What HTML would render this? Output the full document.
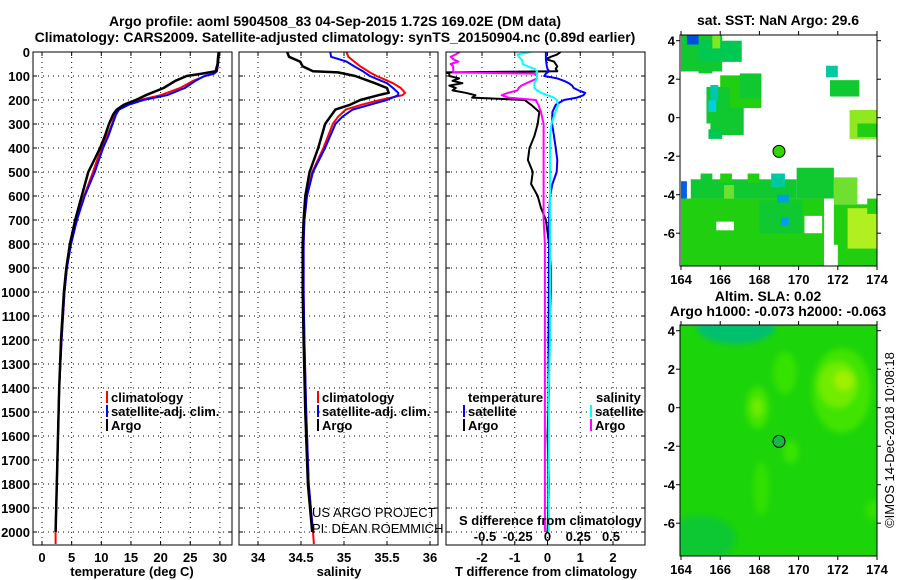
<!DOCTYPE html>
<html><head><meta charset="utf-8">
<style>
html,body{margin:0;padding:0;background:#fff;}
svg{display:block;font-family:"Liberation Sans",Arial,sans-serif;}
.b{font-weight:bold;font-size:13px;}
.t{font-weight:bold;font-size:14px;}
</style></head>
<body>
<svg id="fig" width="900" height="580" viewBox="0 0 900 580" xmlns="http://www.w3.org/2000/svg">
<rect width="900" height="580" fill="#fff"/>
<text class="t" x="335" y="26" text-anchor="middle">Argo profile: aoml 5904508_83 04-Sep-2015 1.72S 169.02E (DM data)</text>
<text class="t" x="335" y="42" text-anchor="middle">Climatology: CARS2009. Satellite-adjusted climatology: synTS_20150904.nc (0.89d earlier)</text>
<text class="t" x="778" y="25" text-anchor="middle">sat. SST: NaN Argo: 29.6</text>
<text class="t" x="768" y="301" text-anchor="middle">Altim. SLA: 0.02</text>
<text class="t" x="778" y="316" text-anchor="middle">Argo h1000: -0.073 h2000: -0.063</text>
<text x="894" y="440" font-size="13" text-anchor="middle" transform="rotate(-90 894 440)">©IMOS 14-Dec-2018 10:08:18</text>
<g id="g"></g>
</svg>
<script>
// ---------- data ----------
const tempDepth = [0,20,50,80,90,100,120,150,180,200,220,240,260,300,350,400,450,500,600,700,800,900,1000,1200,1400,1600,1800,2000,2050];
const argoT = [29.8,29.7,29.6,29.3,27.0,24.4,22.5,20.5,17.5,15.8,13.8,12.6,12.0,11.3,10.6,9.8,8.8,7.8,6.7,5.6,4.7,4.1,3.7,3.2,2.9,2.7,2.5,2.3,null];
const climT = [29.8,29.8,29.7,29.5,29.0,27.5,25.5,23.3,20.0,16.5,14.3,12.8,12.3,11.8,11.0,10.1,9.3,8.6,7.1,5.8,4.8,4.2,3.8,3.3,2.9,2.7,2.5,2.3,2.3];
const satT = [29.8,29.8,29.7,29.5,29.0,27.4,25.9,24.1,21.1,17.1,14.6,13.0,12.5,11.9,11.2,10.3,9.6,8.9,7.2,5.9,4.9,4.2,3.8,3.3,2.9,2.7,2.5,2.3,null];
const salDepth = [0,20,40,60,80,85,100,130,150,170,180,200,220,240,270,300,400,500,600,700,800,1000,1200,1500,1800,2000,2050];
const argoS = [34.34,34.36,34.49,34.52,34.64,34.93,35.13,35.36,35.50,35.52,35.40,35.19,35.07,34.90,34.84,34.78,34.70,34.60,34.55,34.53,34.52,34.52,34.53,34.55,34.58,34.63,null];
const climS = [35.03,35.05,35.12,35.19,35.28,35.30,35.38,35.57,35.66,35.71,35.68,35.42,35.20,35.02,34.93,34.87,34.76,34.63,34.57,34.54,34.53,34.53,34.54,34.56,34.59,34.64,34.65];
const satS = [34.84,34.85,35.03,35.12,35.22,35.24,35.30,35.50,35.57,35.63,35.63,35.50,35.30,35.10,34.98,34.90,34.78,34.64,34.57,34.54,34.53,34.53,34.54,34.56,34.59,34.64,null];
const diffDepth = [0,10,20,30,40,50,60,70,80,85,90,100,110,120,130,140,150,160,170,180,190,200,220,250,300,350,400,450,500,550,600,650,700,800,900,1000,1200,1400,1600,1800,2000];
const argoTdiff = [0.4,0.3,0.1,-0.05,0.2,0.25,0.3,0.25,0.3,-3.1,-3.0,-3.0,-2.7,-2.9,-2.6,-3.0,-2.8,-2.9,-2.5,-2.2,-2.3,-0.7,-0.5,-0.25,-0.3,-0.4,-0.55,-0.6,-0.45,-0.5,-0.3,-0.2,-0.05,0.05,0.1,0.1,0.05,0.05,0.0,0.05,0.0];
const satTdiff = [-0.05,-0.05,-0.05,-0.05,-0.04,-0.03,-0.02,0.0,0.05,0.0,-0.05,-0.1,0.3,0.5,0.65,0.75,0.8,0.95,1.15,1.1,0.9,0.5,0.25,0.15,0.14,0.2,0.25,0.3,0.28,0.15,0.08,0.06,0.05,0.05,0.04,0.04,0.03,0.03,0.02,0.02,0.02];
const satSdiff = [-0.13,-0.23,-0.22,-0.2,-0.19,-0.19,-0.15,-0.1,-0.08,-0.08,-0.08,-0.08,-0.08,-0.09,-0.1,-0.1,-0.1,-0.08,-0.05,0.0,0.05,0.07,0.08,0.06,0.03,0.02,0.02,0.02,0.02,0.02,0.02,0.02,0.02,0.02,0.02,0.02,0.02,0.01,0.01,0.01,0.01];
const argoSdiff = [-0.67,-0.7,-0.74,-0.72,-0.68,-0.74,-0.72,-0.72,-0.72,-0.72,-0.1,-0.08,-0.08,-0.12,-0.16,-0.2,-0.22,-0.23,-0.3,-0.35,-0.3,-0.09,-0.07,-0.05,-0.03,-0.03,-0.03,-0.03,-0.03,-0.03,-0.03,-0.03,-0.03,-0.02,-0.02,-0.02,-0.02,-0.02,-0.02,-0.02,-0.02];
const depthTicks = [0,100,200,300,400,500,600,700,800,900,1000,1100,1200,1300,1400,1500,1600,1700,1800,1900,2000];
const tempTicks = [0,5,10,15,20,25,30];
const salTicks = [34,34.5,35,35.5,36];
const tdTicks = [-2,-1,0,1,2];
const sdTicks = [-0.5,-0.25,0,0.25,0.5];
const latTicks = [4,2,0,-2,-4,-6];
const lonTicks = [164,166,168,170,172,174];
const argoPos = [169.0,-1.75];

// ---------- helpers ----------
const NS='http://www.w3.org/2000/svg';
const G=document.getElementById('g');
function mk(tag,attrs,parent){const e=document.createElementNS(NS,tag);for(const k in attrs)e.setAttribute(k,attrs[k]);(parent||G).appendChild(e);return e;}
const TOP=52,BOT=545;
const yD=d=>TOP+d*0.24;
const xT=v=>42+v*5.93;
const xS=v=>258+(v-34)*86;
const xTD=v=>547.5+v*32.75;
const xSD=v=>547.5+v*131;
const panels=[[33,232],[239,438],[446,645]];

function frame(x0,x1,xs,xf,ticks,labels,name){
  const g=mk('g',{});
  
  
  depthTicks.forEach(d=>{
    const l=mk('line',{x1:x0,x2:x1,y1:yD(d),y2:yD(d),stroke:'#000','stroke-width':1,'stroke-dasharray':'1,4'},g);
    
    
    mk('line',{x1:x0,x2:x0+4,y1:yD(d),y2:yD(d),stroke:'#000'},g);
    mk('line',{x1:x1-4,x2:x1,y1:yD(d),y2:yD(d),stroke:'#000'},g);
  });
  ticks.forEach((v,i)=>{
    const x=xf(v);
    if(xs){const l=mk('line',{x1:x,x2:x,y1:TOP,y2:BOT,stroke:'#000','stroke-width':1,'stroke-dasharray':'1,4'},g);
      
      }
    mk('line',{x1:x,x2:x,y1:BOT-4,y2:BOT,stroke:'#000'},g);
    mk('line',{x1:x,x2:x,y1:TOP,y2:TOP+4,stroke:'#000'},g);
    const t=mk('text',{x:x,y:562,'text-anchor':'middle','class':'b'},g);
    t.textContent=labels[i];
    
    
  });
}
function line(depths,vals,xf,color,w,x0,x1,name){
  let d='',pen=false;
  depths.forEach((dep,i)=>{const v=vals[i];if(v===null||v===undefined){pen=false;return;}
    d+=(pen?'L':'M')+xf(v).toFixed(1)+','+yD(dep).toFixed(1);pen=true;});
  const p=mk('path',{d:d,fill:'none',stroke:color,'stroke-width':w,'stroke-linejoin':'round','clip-path':'url(#'+name.split('-')[0]+'clip)'});
  
  
}
const defs=mk('defs',{});
[['p1',0],['p2',1],['p3',2]].forEach(([n,i])=>{const c=mk('clipPath',{id:n+'clip'},defs);mk('rect',{x:panels[i][0],y:TOP,width:panels[i][1]-panels[i][0],height:BOT-TOP},c);});

frame(33,232,true,xT,tempTicks,tempTicks.map(String),'temperature-panel');
frame(239,438,true,xS,salTicks,salTicks.map(String),'salinity-panel');
frame(446,645,true,xTD,tdTicks,tdTicks.map(String),'difference-panel');
sdTicks.forEach(v=>{const t=mk('text',{x:xSD(v)+(v<0?3:v>0?-2:0),y:541,'text-anchor':'middle','class':'b'});
  t.textContent=(v===0?'0':String(v));
  
  });
depthTicks.forEach(d=>{const t=mk('text',{x:30,y:yD(d)+5,'text-anchor':'end','class':'b'});t.textContent=d;
  
  });

line(tempDepth,climT,xT,'#f00',2,0,0,'p1-clim-temperature');
line(tempDepth,satT,xT,'#00f',2,0,0,'p1-satadj-temperature');
line(tempDepth,argoT,xT,'#000',2.5,0,0,'p1-argo-temperature');
line(salDepth,climS,xS,'#f00',2,0,0,'p2-clim-salinity');
line(salDepth,satS,xS,'#00f',2,0,0,'p2-satadj-salinity');
line(salDepth,argoS,xS,'#000',2.5,0,0,'p2-argo-salinity');
line(diffDepth,argoTdiff,xTD,'#000',2,0,0,'p3-argo-t-diff');
line(diffDepth,satTdiff,xTD,'#00f',2,0,0,'p3-sat-t-diff');
line(diffDepth,argoSdiff,xSD,'#f0f',2,0,0,'p3-argo-s-diff');
line(diffDepth,satSdiff,xSD,'#0ff',2,0,0,'p3-sat-s-diff');
panels.forEach(([a,b])=>{const r=mk('rect',{x:a,y:TOP,width:b-a,height:BOT-TOP,fill:'none',stroke:'#000','stroke-width':1});
  
  });

function txt(x,y,s,name,cls,anchor,extra){const t=mk('text',Object.assign({x:x,y:y,'class':cls||'b','text-anchor':anchor||'start'},extra||{}));t.textContent=s;
  
  return t;}
txt(132,576,'temperature (deg C)','x-axis-title-temperature','b','middle');
txt(339,576,'salinity','x-axis-title-salinity','b','middle');
txt(546,576,'T difference from climatology','x-axis-title-t-diff','b','middle');
txt(459,525,'S difference from climatology','s-diff-axis-title','b','start');
txt(312,517,'US ARGO PROJECT','project-credit',null,'start',{'font-size':'13','class':''});
txt(312,533,'PI: DEAN ROEMMICH','pi-credit',null,'start',{'font-size':'13','class':''});
function leg(x,y,color,s,name){const r=mk('rect',{x:x,y:y-11,width:2,height:12,fill:color});
  
  
  txt(x+5,y,s,name,'b','start');}
leg(106,402,'#f00','climatology','legend-p1-climatology');
leg(106,416,'#00f','satellite-adj. clim.','legend-p1-satellite');
leg(106,430,'#000','Argo','legend-p1-argo');
leg(317,402,'#f00','climatology','legend-p2-climatology');
leg(317,416,'#00f','satellite-adj. clim.','legend-p2-satellite');
leg(317,430,'#000','Argo','legend-p2-argo');
txt(468,402,'temperature','legend-p3-temperature-header','b','start');
leg(463,416,'#00f','satellite','legend-p3-t-satellite');
leg(463,430,'#000','Argo','legend-p3-t-argo');
txt(596,402,'salinity','legend-p3-salinity-header','b','start');
leg(590,416,'#0ff','satellite','legend-p3-s-satellite');
leg(590,430,'#f0f','Argo','legend-p3-s-argo');

// ---------- maps ----------
const MX0=680,MX1=877;
const mxL=l=>681+(l-164)*19.6;
function mapFrame(top,name,drawFn){
  const bot=top+231;
  const myL=la=>top+5.7+(4-la)*19.25;
  const g=mk('g',{});
  
  
  const cid=name+'-clip';
  const c=mk('clipPath',{id:cid},defs);mk('rect',{x:MX0,y:top,width:MX1-MX0,height:bot-top},c);
  const inner=mk('g',{'clip-path':'url(#'+cid+')'},g);
  drawFn(inner,myL,top,bot);
  const m=mk('circle',{cx:mxL(argoPos[0]),cy:myL(argoPos[1]),r:6,fill:top<100?'#30d800':'#18b848',stroke:'#000','stroke-width':1},g);
  
  
  mk('rect',{x:MX0,y:top,width:MX1-MX0,height:bot-top,fill:'none',stroke:'#000'},g);
  latTicks.forEach(la=>{const y=myL(la);mk('line',{x1:MX0-4,x2:MX0,y1:y,y2:y,stroke:'#000'},g);mk('line',{x1:MX1,x2:MX1+4,y1:y,y2:y,stroke:'#000'},g);
    const t=mk('text',{x:MX0-5,y:y+5,'text-anchor':'end','class':'b'},g);t.textContent=la;
    
    });
  lonTicks.forEach(lo=>{const x=mxL(lo);mk('line',{x1:x,x2:x,y1:top-4,y2:top,stroke:'#000'},g);mk('line',{x1:x,x2:x,y1:bot,y2:bot+4,stroke:'#000'},g);
    const t=mk('text',{x:x,y:bot+18,'text-anchor':'middle','class':'b'},g);t.textContent=lo;
    
    });
}
const G1='#10c830',G2='#00c850',G3='#20d010';
const sstPatches=[
 [164,2.4,166.1,4.3,G1],[164.9,2.9,167.1,4.0,G2],[164.9,2.3,165.6,2.9,G1],[164.3,3.8,164.9,4.3,'#0050e0'],[165.6,3.6,166.0,4.3,'#80e820'],
 [165.5,-0.9,167.2,1.0,G1],[166.0,0.5,168.1,2.2,G3],[165.3,-0.3,166.5,1.6,G1],[167.0,1.0,168.1,2.3,G1],[165.5,0.9,165.9,1.7,'#00c8b0'],[165.4,0.3,165.8,0.9,'#00d0e0'],[165.4,-1.1,166.1,-0.6,G2],
 [171.4,2.1,172.0,2.7,'#00c8a0'],[171.6,1.1,173.1,1.95,G1],
 [172.6,-1.1,174,0.4,'#90e820'],[173.0,-1.0,174,-0.3,G3],
 [164,-7.7,171.3,-4.2,G3],[164.5,-4.2,169.9,-3.2,G1],[169.9,-4.2,171.8,-2.6,G1],
 [165.0,-3.3,165.6,-2.9,G1],[166.0,-3.4,166.6,-2.9,G3],[167.4,-3.4,168.0,-2.9,G3],[168.6,-3.6,169.3,-2.9,'#00c8a0'],
 [166.2,-4.2,166.7,-3.5,'#70e030'],[168.0,-6.0,170.2,-4.3,G1],
 [171.8,-7.7,174,-4.5,G3],[172.5,-6.8,174,-4.7,'#b0f020'],[171.8,-4.5,173,-3.1,'#70e030'],[173.5,-5.0,174,-4.2,G3],
 [164,-4.2,164.3,-3.3,'#0060e0'],[169.1,-5.6,169.5,-5.2,'#00a0f0'],[168.9,-4.4,169.5,-4.0,'#00a0e0'],
 [165.8,-5.85,166.7,-5.4,'#fff'],[170.3,-6.0,171.2,-5.1,'#fff'],[171.4,-7.7,172.0,-6.6,'#fff']
];
mapFrame(35,'sst-map',(g,myL)=>{
  sstPatches.forEach(p=>{const r=mk('rect',{x:mxL(p[0]),y:myL(p[3]),width:mxL(p[2])-mxL(p[0]),height:myL(p[1])-myL(p[3]),fill:p[4]},g);
    
    });
});
const slaBlobs=[
 [166.8,4.2,2.0,0.9,'#00c070'],[165.0,-6.8,1.8,1.2,'#10c830'],
 [172.2,0.9,1.5,2.2,'#40e400'],[172.0,1.2,1.0,1.2,'#70ec00'],[172.3,1.4,0.5,0.5,'#a0f000'],
 [167.9,0.0,0.6,1.1,'#40e400'],[167.9,0.0,0.3,0.5,'#70ec00'],[169.3,1.8,0.6,1.1,'#34e200'],
 [169.6,-2.3,0.4,0.6,'#38e400'],[168.1,-4.2,0.4,1.4,'#30e000'],[173.8,-5.3,0.4,0.5,'#30e000']
];
mapFrame(325,'sla-map',(g,myL)=>{
  const f=mk('filter',{id:'blur'},defs);mk('feGaussianBlur',{stdDeviation:3},f);
  mk('rect',{x:MX0,y:325,width:MX1-MX0,height:231,fill:'#1cd40a'},g);
  const bg=mk('g',{filter:'url(#blur)'},g);
  slaBlobs.forEach(b=>{const e=mk('ellipse',{cx:mxL(b[0]),cy:myL(b[1]),rx:b[2]*19.6,ry:b[3]*19.25,fill:b[4]},bg);
    
    });
});
</script>
</body></html>
